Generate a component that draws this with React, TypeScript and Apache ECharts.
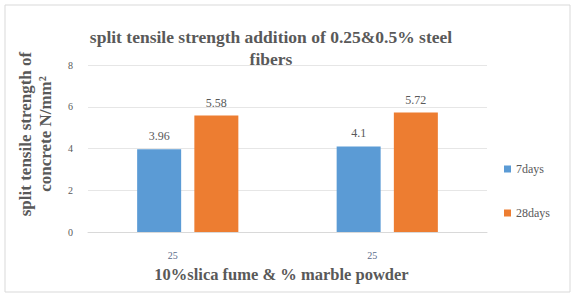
import React, { useEffect, useRef } from "react";
import * as echarts from "echarts";

const categories = ["25", "25"];
const days7 = [3.96, 4.1];
const days28 = [5.58, 5.72];
const yTicks = [0, 2, 4, 6, 8];

const serif = "'Liberation Serif', 'DejaVu Serif', serif";

export default function App() {
  const ref = useRef<HTMLDivElement>(null);
  useEffect(() => {
    if (!ref.current) return;
    const chart = echarts.init(ref.current, undefined, { renderer: "svg" });
    chart.setOption({
      animation: false,
      backgroundColor: "#ffffff",
      title: {
        text: "split tensile strength addition of 0.25&0.5% steel\nfibers",
        left: 266,
        top: 21,
        textAlign: "center",
        textStyle: { fontFamily: serif, fontWeight: "bold", fontSize: 17.5, color: "#595959", lineHeight: 22 },
      },
      grid: { left: 88, right: 87, top: 65, bottom: 64 },
      legend: {
        orient: "vertical",
        left: 499,
        top: 158,
        itemGap: 32,
        itemWidth: 7,
        itemHeight: 7,
        icon: "rect",
        textStyle: { fontFamily: serif, fontSize: 12, color: "#595959" },
        data: ["7days", "28days"],
      },
      xAxis: {
        type: "category",
        data: categories,
        axisLine: { lineStyle: { color: "#d9d9d9" } },
        axisTick: { show: false },
        axisLabel: { fontFamily: serif, fontSize: 10, color: "#5a6a8a", margin: 18, padding: [0, 30, 0, 0] },
        name: "10%slica fume & % marble powder",
        nameLocation: "middle",
        nameGap: 34,
        nameTextStyle: { fontFamily: serif, fontWeight: "bold", fontSize: 16.5, color: "#595959", padding: [0, 12, 0, 0] },
      },
      yAxis: {
        type: "value",
        min: yTicks[0],
        max: yTicks[yTicks.length - 1],
        interval: 2,
        axisLine: { show: false },
        axisTick: { show: false },
        axisLabel: { fontFamily: serif, fontSize: 10, color: "#595959", margin: 15 },
        splitLine: { lineStyle: { color: "#e6e6e6" } },
      },
      series: [
        {
          name: "7days",
          type: "bar",
          data: days7,
          itemStyle: { color: "#5b9bd5" },
          barWidth: 44,
          barGap: "30%",
          label: { show: true, position: "top", distance: 7, fontFamily: serif, fontSize: 12, color: "#595959" },
        },
        {
          name: "28days",
          type: "bar",
          data: days28,
          itemStyle: { color: "#ed7d31" },
          barWidth: 44,
          label: { show: true, position: "top", distance: 7, fontFamily: serif, fontSize: 12, color: "#595959" },
        },
      ],
      graphic: [
        {
          type: "rect",
          shape: { x: 5, y: 5, width: 565, height: 287 },
          style: { fill: "none", stroke: "#d9d9d9", lineWidth: 1 },
          silent: true,
        },
        {
          type: "text",
          x: 35,
          y: 134,
          rotation: Math.PI / 2,
          style: {
            text: "split tensile strength of\nconcrete N/mm²",
            fontFamily: serif,
            fontWeight: "bold",
            fontSize: 17,
            lineHeight: 20,
            fill: "#595959",
            textAlign: "center",
            textVerticalAlign: "middle",
          },
        },
      ],
    });
    return () => chart.dispose();
  }, []);
  return <div ref={ref} style={{ width: 574, height: 296, position: "absolute", left: 0, top: 0 }} />;
}
